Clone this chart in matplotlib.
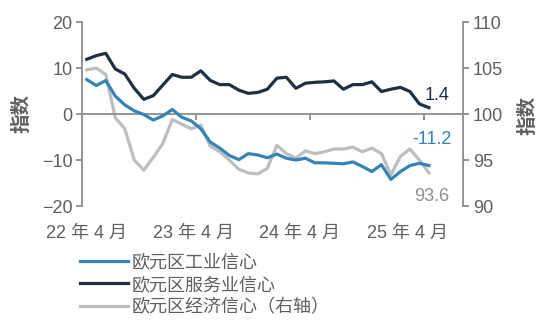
import numpy as np
import matplotlib.pyplot as plt
from matplotlib import transforms

plt.rcParams['font.family'] = ['Liberation Sans', 'Noto Sans CJK SC', 'DejaVu Sans']
plt.rcParams['font.size'] = 13

# monthly, Apr 2022 .. Apr 2025
industry = [7.5, 6.2, 7.3, 3.9, 2.0, 0.7, -0.1, -1.3, -0.4, 1.0, -0.7, -1.5, -3.2, -6.1,
            -7.4, -9.0, -9.9, -8.6, -8.9, -9.5, -8.7, -9.6, -10.0, -9.6, -10.6, -10.6,
            -10.7, -10.8, -10.4, -11.4, -12.5, -11.0, -14.2, -12.5, -11.2, -10.7, -11.2]
services = [11.9, 12.7, 13.2, 9.8, 8.7, 5.6, 3.2, 4.0, 6.3, 8.6, 8.0, 8.0, 9.4, 7.3,
            6.4, 6.4, 5.2, 4.5, 4.7, 5.4, 7.8, 8.0, 5.6, 6.7, 6.9, 7.0, 7.2, 5.4, 6.4,
            6.4, 7.0, 4.9, 5.4, 5.8, 4.9, 2.2, 1.4]
esi = [104.8, 105.0, 104.3, 99.6, 98.4, 95.0, 93.9, 95.3, 96.8, 99.4, 98.9, 98.4, 98.8,
       96.5, 95.9, 95.0, 94.0, 93.6, 93.5, 94.1, 96.6, 95.7, 95.2, 96.0, 95.7, 95.9,
       96.2, 96.2, 96.4, 95.9, 96.3, 95.7, 93.4, 95.4, 96.2, 95.0, 93.6]
xlabels = ['22 年 4 月', '23 年 4 月', '24 年 4 月', '25 年 4 月']
series_names = ['欧元区工业信心', '欧元区服务业信心', '欧元区经济信心（右轴）']

BLUE = '#3584b5'
NAVY = '#1f3044'
GREY = '#bdbec0'
AXC = '#8c8c8c'
TXT = '#5f5f5f'

fig = plt.figure(figsize=(5.56, 3.34), dpi=100)
ax = fig.add_axes([0.1475, 0.383, 0.6855, 0.551])
ax2 = ax.twinx()

x = np.arange(len(industry))
l1, = ax.plot(x, industry, color=BLUE, lw=2.3, zorder=3)
l2, = ax.plot(x, services, color=NAVY, lw=2.3, zorder=3)
l3, = ax2.plot(x, esi, color=GREY, lw=2.3, zorder=2)
ax.set_zorder(ax2.get_zorder() + 1)
ax.patch.set_visible(False)

ax.set_xlim(-0.5, 39.6)
ax.set_ylim(-20, 20)
ax2.set_ylim(90, 110)
ax.set_yticks([-20, -10, 0, 10, 20])
ax2.set_yticks([90, 95, 100, 105, 110])

for a in (ax, ax2):
    for s in a.spines.values():
        s.set_visible(False)
ax.spines['left'].set_visible(True)
ax.spines['left'].set_color(AXC)
ax.spines['left'].set_linewidth(1.3)
ax2.spines['right'].set_visible(True)
ax2.spines['right'].set_color(AXC)
ax2.spines['right'].set_linewidth(1.3)
ax.spines['bottom'].set_visible(True)
ax.spines['bottom'].set_position(('data', 0))
ax.spines['bottom'].set_color(AXC)
ax.spines['bottom'].set_linewidth(1.3)

ax.set_xticks([11.5, 23.5, 35.5])
ax.set_xticklabels([])
ax.tick_params(axis='x', direction='out', length=4, width=1.3, color=AXC)
ax.tick_params(axis='y', direction='out', length=4, width=1.3, color=AXC,
               labelcolor=TXT, labelsize=13, pad=3)
ax2.tick_params(axis='y', direction='out', length=4, width=1.3, color=AXC,
                labelcolor=TXT, labelsize=13, pad=3)

# month labels below the plot
trans = transforms.blended_transform_factory(ax.transData, ax.transAxes)
for pos, lab in zip([0.0, 11.2, 22.4, 33.7], xlabels):
    ax.text(pos, -0.1, lab, transform=trans, ha='center', va='top',
            color=TXT, fontsize=13)

fig.text(0.04, 0.66, '指数', rotation=90, ha='center', va='center',
         color=TXT, fontsize=14, fontweight='bold')
fig.text(0.95, 0.655, '指数', rotation=90, ha='center', va='center',
         color=TXT, fontsize=14, fontweight='bold')

# end labels
ax.text(36.9, 4.0, '1.4', color=NAVY, fontsize=13, ha='center', va='center')
ax.text(36.3, -5.5, '-11.2', color=BLUE, fontsize=13, ha='center', va='center')
ax2.text(36.3, 91.0, '93.6', color='#8f8f8f', fontsize=13, ha='center', va='center')

fig.legend([l1, l2, l3], series_names, loc='upper left',
           bbox_to_anchor=(0.13, 0.26), frameon=False, fontsize=13,
           handlelength=2.7, handletextpad=0.2, labelspacing=0.3,
           borderaxespad=0, labelcolor=TXT)

plt.savefig('out.png', dpi=100)
